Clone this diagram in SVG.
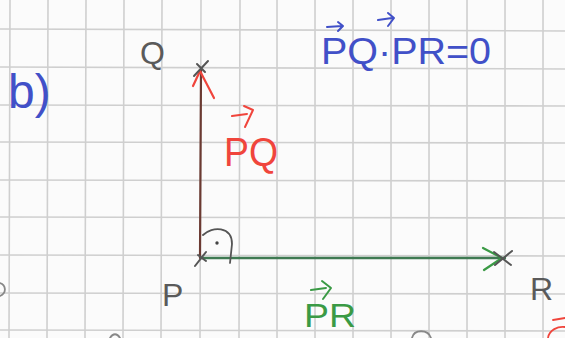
<svg xmlns="http://www.w3.org/2000/svg" width="565" height="338" viewBox="0 0 565 338">
<style>
.grid{stroke:#cfcfcf;stroke-width:1.6;fill:none}
.hand{font-family:"Liberation Sans","DejaVu Sans",sans-serif;font-weight:normal}
.lbl{fill:#5a5a5a;font-size:32px}
.blue{fill:#4150c8}
.red{fill:#f0453c}
.green{fill:#3a9a45}
.ink{fill:none;stroke-linecap:round;stroke-linejoin:round}
</style>
<rect width="565" height="338" fill="#fbfbfb"/>
<g id="grid" class="grid">
<path d="M10,0 L9,338 M48,0 L47,338 M86,0 L85,338 M124,0 L123,338 M162,0 L161,338 M201,0 L200,338 M240,0 L239,338 M277,0 L277,338 M315,0 L315,338 M353,0 L353,338 M391,0 L391,338 M429,0 L429,338 M467,0 L467,338 M505,0 L505,338 M543,0 L543,338"/>
<path d="M0,29 L565,31 M0,67 L565,69 M0,105 L565,106 M0,142 L565,143 M0,180 L565,181 M0,217 L565,218 M0,255 L565,256 M0,293 L565,294 M0,330 L565,331"/>
</g>
<g id="title">
<text class="hand blue" x="8" y="108" font-size="48">b)</text>
</g>
<g id="equation">
<text class="hand blue" x="321" y="64" font-size="36" textLength="170" lengthAdjust="spacingAndGlyphs">PQ·PR=0</text>
<path class="ink" stroke="#4150c8" stroke-width="2" d="M327,27 L342,26 M338,22 L343,26 L338,31 M378,20 L392,18 M388,13 L394,18 L388,26"/>
</g>
<g id="connectors">
<g id="vec-PQ">
<path class="ink" stroke="#6b3a32" stroke-width="2.2" d="M200,258 L201,70"/>
<path class="ink" stroke="#f0453c" stroke-width="2.2" d="M193,86 L200,71 L214,98"/>
</g>
<g id="vec-PR">
<path class="ink" stroke="#3f7a52" stroke-width="2.4" d="M201,258 L505,258"/>
<path class="ink" stroke="#3a9a45" stroke-width="2.2" d="M483,248 L502,258 L484,270"/>
</g>
</g>
<g id="node-Q">
<path class="ink" stroke="#555" stroke-width="2" d="M194,76 L208,61 M197,64 L205,72"/>
<text class="hand lbl" x="140" y="64">Q</text>
</g>
<g id="node-P">
<path class="ink" stroke="#555" stroke-width="2" d="M195,266 L206,252 M198,255 L206,261"/>
<text class="hand lbl" x="162" y="306">P</text>
<path class="ink" stroke="#555" stroke-width="1.8" d="M203,235 C212,226 232,226 232,244 L230,263"/>
<circle cx="217" cy="243" r="1.7" fill="#444"/>
</g>
<g id="node-R">
<path class="ink" stroke="#555" stroke-width="2" d="M494,252 L511,265 M495,265 L512,251"/>
<text class="hand lbl" x="530" y="300">R</text>
</g>
<g id="label-PQ">
<text class="hand red" x="224" y="166" font-size="40" textLength="54" lengthAdjust="spacingAndGlyphs">PQ</text>
<path class="ink" stroke="#f0453c" stroke-width="2" d="M232,116 L247,114 M244,106 L253,110 L245,127"/>
</g>
<g id="label-PR">
<text class="hand green" x="304" y="327" font-size="34" textLength="52" lengthAdjust="spacingAndGlyphs">PR</text>
<path class="ink" stroke="#3a9a45" stroke-width="2" d="M311,290 L326,288 M322,281 L331,288 L323,299"/>
</g>
<g id="fragments" class="ink" stroke-width="1.8">
<path stroke="#888" d="M0,283 C6,285 7,293 0,296"/>
<path stroke="#888" d="M110,338 C113,333 117,333 120,338"/>
<path stroke="#888" d="M412,338 C414,329 428,329 431,338"/>
<path stroke="#f0453c" d="M548,338 C549,330 558,326 565,327 M553,320 L565,318"/>
</g>
</svg>
